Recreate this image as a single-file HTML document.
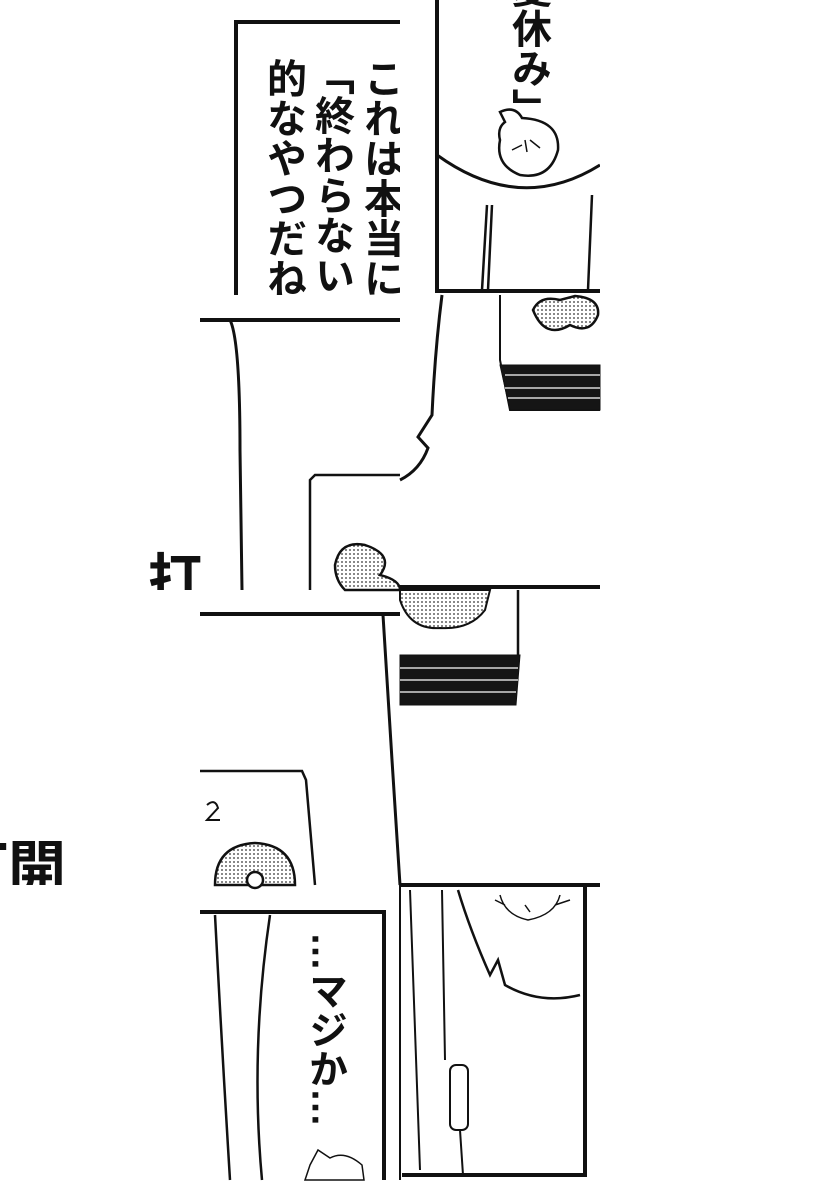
<!DOCTYPE html>
<html><head><meta charset="utf-8"><style>
html,body{margin:0;padding:0;background:#fff;}
svg{display:block}
.t{font-family:"Liberation Sans","Noto Sans CJK JP",sans-serif;font-weight:bold;fill:#111}
</style></head><body>
<svg width="820" height="1200" viewBox="0 0 820 1200" xmlns="http://www.w3.org/2000/svg">
<defs>
<pattern id="dots" width="4" height="4" patternUnits="userSpaceOnUse"><rect width="4" height="4" fill="#fff"/><circle cx="2" cy="2" r="0.9" fill="#333"/></pattern>
<clipPath id="cA"><rect x="200" y="0" width="200" height="295"/></clipPath>
<clipPath id="cB"><rect x="400" y="0" width="200" height="295"/></clipPath>
<clipPath id="cDa"><rect x="140" y="530" width="62" height="60"/></clipPath>
<clipPath id="cK"><rect x="0" y="820" width="80" height="65"/></clipPath>
</defs>
<g fill="none" stroke="#111" stroke-width="2.5">
<!-- Tile A -->
<g clip-path="url(#cA)">
<path d="M236 295 V22 H400" stroke-width="4"/>
<g class="t" stroke="none" font-size="40">
<text x="380" y="58" style="writing-mode:vertical-rl">これは本当に「</text>
<text x="331" y="55" style="writing-mode:vertical-rl">「終わらない夏」</text>
<text x="283" y="58" style="writing-mode:vertical-rl">的なやつだね</text>
</g>
</g>
<!-- Tile B -->
<g clip-path="url(#cB)">
<path d="M437 0 V291 H600" stroke-width="4"/>
<text class="t" stroke="none" font-size="40" x="528" y="-32" style="writing-mode:vertical-rl">夏休み」</text>
<path d="M437 155 Q520 215 600 165" stroke-width="3"/>
<path d="M487 205 L482 290 M492 205 L488 290 M592 195 L588 290"/>
<path d="M500 112 Q515 105 522 118 Q560 120 558 150 Q550 180 520 175 Q495 165 500 140 Q497 128 505 122 Z"/>
<path d="M512 150 L522 145 M530 140 L540 148 M525 140 L527 152" stroke-width="1.5"/>
</g>
<!-- Row 2 left -->
<path d="M200 320 H400" stroke-width="4"/>
<path d="M230 320 Q240 340 240 450 L242 590" stroke-width="3"/>
<path d="M310 590 V480 L315 475 H400" stroke-width="2.5"/>
<path d="M335 565 Q340 540 365 545 Q395 555 380 575 Q400 580 400 590 H345 Q335 580 335 565Z" fill="url(#dots)"/>
<!-- Row 2 right -->
<path d="M442 295 Q435 350 432 415 L418 437 L428 448 Q420 470 400 480" stroke-width="3"/>
<path d="M500 295 V360 L510 410 H600" stroke-width="2"/>
<path d="M533 310 Q540 295 560 300 L575 296 Q600 298 598 315 Q590 335 570 325 Q545 340 533 310Z" fill="url(#dots)"/>
<path d="M500 365 H600 V410 H510 Z" fill="#151515" stroke-width="1"/>
<path d="M505 375 H600 M505 388 H600 M508 398 H600" stroke="#fff" stroke-width="1.2"/>
<path d="M400 587 H600" stroke-width="4"/>
<!-- 打 -->
<g clip-path="url(#cDa)"><text class="t" stroke="none" font-size="54" x="148" y="598">打開</text></g>
<g clip-path="url(#cK)"><text class="t" stroke="none" font-size="58" x="-50" y="888">打開</text></g>
<!-- Row 3 left -->
<path d="M200 614 H400" stroke-width="4"/>
<path d="M383 615 L392 760 L400 885" stroke-width="3"/>
<path d="M200 771 H302 L306 780 L315 885" stroke-width="2.5"/>
<path d="M207 805 Q215 798 218 808 L207 820 H220" stroke-width="2"/>
<path d="M215 885 Q215 845 255 843 Q295 845 295 885Z" fill="url(#dots)"/>
<circle cx="255" cy="880" r="8" fill="#fff"/>
<!-- Row 3 right -->
<path d="M400 600 Q410 630 440 628 Q470 630 485 610 L490 590 H400Z" fill="url(#dots)" stroke-width="2"/>
<path d="M518 590 V655 L515 705" stroke-width="2.5"/>
<path d="M400 655 H520 L516 705 H400Z" fill="#151515" stroke-width="1"/>
<path d="M400 668 H518 M400 680 H518 M400 692 H516" stroke="#fff" stroke-width="1.2"/>
<path d="M400 885 H600" stroke-width="4"/>
<!-- Row 4 left -->
<path d="M200 912 H384 V1180" stroke-width="4"/>
<path d="M215 915 Q222 1050 230 1180 M270 915 Q250 1050 262 1180" stroke-width="2.5"/>
<text class="t" stroke="none" font-size="39" x="325" y="932" style="writing-mode:vertical-rl">…マジか…</text>
<path d="M310 1165 L318 1150 L330 1158 Q345 1150 362 1165 L364 1180 H305Z" stroke-width="1.5"/>
<!-- Row 4 right -->
<path d="M400 885 V1180" stroke-width="2"/>
<path d="M585 885 V1175 H402" stroke-width="4"/>
<path d="M410 890 L420 1170 M442 890 L445 1060 M460 1130 L463 1175" stroke-width="2"/>
<rect x="450" y="1065" width="18" height="65" rx="6" stroke-width="2"/>
<path d="M458 890 Q470 930 490 975 L498 960 L505 985 Q540 1005 580 995" stroke-width="2.5"/>
<path d="M500 895 Q505 915 528 920 Q555 915 560 895 M505 905 L495 900 M555 905 L570 900 M525 905 L530 912" stroke-width="1.5"/>
</g>
</svg>
</body></html>
